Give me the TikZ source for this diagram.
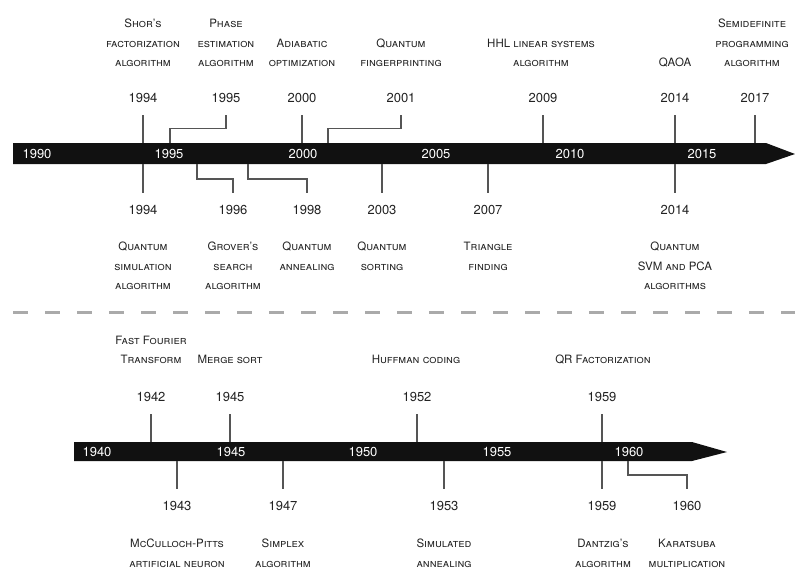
\documentclass[tikz,border=0pt]{standalone}
\usepackage{fontspec}
\setmainfont{TeX Gyre Heros}
\definecolor{ink}{HTML}{222222}
\definecolor{linegray}{HTML}{555555}
\definecolor{barblack}{HTML}{111111}
\definecolor{dashgray}{HTML}{AAAAAA}
\begin{document}
\begin{tikzpicture}[x=1pt,y=-1pt,
  yr/.style={font=\fontsize{13}{13}\selectfont, text=ink, minimum height=34pt, inner sep=0pt},
  desc/.style={font=\fontsize{11.5}{19.5}\selectfont\scshape, align=center, text=ink, inner sep=0pt},
  barlab/.style={font=\fontsize{13}{13}\selectfont, text=white, inner sep=0pt},
  conn/.style={draw=linegray, line width=1.2pt},
  timebar/.style={fill=barblack},
  sep/.style={draw=dashgray, line width=3pt, dash pattern=on 15pt off 17pt}
  ]
\useasboundingbox (0,0) rectangle (795,571);

% ---------------- top timeline ----------------
\fill[timebar] (13,143) -- (766,143) -- (795,154) -- (766,164) -- (13,164) -- cycle;
\foreach \t/\x in {1990/37,1995/169,2000/303,2005/436,2010/570,2015/702}
  \node[barlab] (bt\t) at (\x,154) {\t};

% above
\node[yr] (y94a) at (143,98) {1994};
\node[desc, anchor=south] (d94a) at (143,67) {Shor's\\factorization\\algorithm};
\coordinate (a94a) at (143,143);
\draw[conn] (y94a.south) -- (a94a);

\node[yr] (y95) at (226,98) {1995};
\node[desc, anchor=south] (d95) at (226,67) {Phase\\estimation\\algorithm};
\coordinate (a95) at (170,143);
\draw[conn] (y95.south) -- ++(0,13) -| (a95);

\node[yr] (y00) at (302,98) {2000};
\node[desc, anchor=south] (d00) at (302,67) {Adiabatic\\optimization};
\coordinate (a00) at (302,143);
\draw[conn] (y00.south) -- (a00);

\node[yr] (y01) at (401,98) {2001};
\node[desc, anchor=south] (d01) at (401,67) {Quantum\\fingerprinting};
\coordinate (a01) at (328,143);
\draw[conn] (y01.south) -- ++(0,13) -| (a01);

\node[yr] (y09) at (543,98) {2009};
\node[desc, anchor=south] (d09) at (541,67) {HHL linear systems\\algorithm};
\coordinate (a09) at (543,143);
\draw[conn] (y09.south) -- (a09);

\node[yr] (y14a) at (675,98) {2014};
\node[desc, anchor=south] (d14a) at (675,67) {QAOA};
\coordinate (a14a) at (675,143);
\draw[conn] (y14a.south) -- (a14a);

\node[yr] (y17) at (755,98) {2017};
\node[desc, anchor=south] (d17) at (752,67) {Semidefinite\\programming\\algorithm};
\coordinate (a17) at (755,143);
\draw[conn] (y17.south) -- (a17);

% below
\node[yr] (y94b) at (143,210) {1994};
\node[desc, anchor=north] (d94b) at (143,242) {Quantum\\simulation\\algorithm};
\coordinate (a94b) at (143,164);
\draw[conn] (a94b) -- (y94b.north);

\node[yr] (y96) at (233,210) {1996};
\node[desc, anchor=north] (d96) at (233,242) {Grover's\\search\\algorithm};
\coordinate (a96) at (197,164);
\draw[conn] (a96) -- ++(0,15) -| (y96.north);

\node[yr] (y98) at (307,210) {1998};
\node[desc, anchor=north] (d98) at (307,242) {Quantum\\annealing};
\coordinate (a98) at (248,164);
\draw[conn] (a98) -- ++(0,15) -| (y98.north);

\node[yr] (y03) at (382,210) {2003};
\node[desc, anchor=north] (d03) at (382,242) {Quantum\\sorting};
\coordinate (a03) at (382,164);
\draw[conn] (a03) -- (y03.north);

\node[yr] (y07) at (488,210) {2007};
\node[desc, anchor=north] (d07) at (488,242) {Triangle\\finding};
\coordinate (a07) at (488,164);
\draw[conn] (a07) -- (y07.north);

\node[yr] (y14b) at (675,210) {2014};
\node[desc, anchor=north] (d14b) at (675,242) {Quantum\\SVM and PCA\\algorithms};
\coordinate (a14b) at (675,164);
\draw[conn] (a14b) -- (y14b.north);

% ---------------- separator ----------------
\coordinate (s1) at (13,312);
\coordinate (s2) at (795,312);
\draw[sep] (s1) -- (s2);

% ---------------- bottom timeline ----------------
\fill[timebar] (74,442) -- (692,442) -- (727,452) -- (692,461) -- (74,461) -- cycle;
\foreach \t/\x in {1940/97,1945/231,1950/363,1955/497,1960/629}
  \node[barlab] (bb\t) at (\x,452) {\t};

% above
\node[yr] (y42) at (151,397) {1942};
\node[desc, anchor=south] (d42) at (151,364) {Fast Fourier\\Transform};
\coordinate (a42) at (151,442);
\draw[conn] (y42.south) -- (a42);

\node[yr] (y45) at (230,397) {1945};
\node[desc, anchor=south] (d45) at (230,364) {Merge sort};
\coordinate (a45) at (230,442);
\draw[conn] (y45.south) -- (a45);

\node[yr] (y52) at (417,397) {1952};
\node[desc, anchor=south] (d52) at (416,364) {Huffman coding};
\coordinate (a52) at (417,442);
\draw[conn] (y52.south) -- (a52);

\node[yr] (y59a) at (602,397) {1959};
\node[desc, anchor=south] (d59a) at (603,364) {QR Factorization};
\coordinate (a59a) at (602,442);
\draw[conn] (y59a.south) -- (a59a);

% below
\node[yr] (y43) at (177,506) {1943};
\node[desc, anchor=north] (d43) at (177,539) {McCulloch-Pitts\\artificial neuron};
\coordinate (a43) at (177,461);
\draw[conn] (a43) -- (y43.north);

\node[yr] (y47) at (283,506) {1947};
\node[desc, anchor=north] (d47) at (283,539) {Simplex\\algorithm};
\coordinate (a47) at (283,461);
\draw[conn] (a47) -- (y47.north);

\node[yr] (y53) at (444,506) {1953};
\node[desc, anchor=north] (d53) at (444,539) {Simulated\\annealing};
\coordinate (a53) at (444,461);
\draw[conn] (a53) -- (y53.north);

\node[yr] (y59b) at (602,506) {1959};
\node[desc, anchor=north] (d59b) at (603,539) {Dantzig's\\algorithm};
\coordinate (a59b) at (602,461);
\draw[conn] (a59b) -- (y59b.north);

\node[yr] (y60) at (687,506) {1960};
\node[desc, anchor=north] (d60) at (687,539) {Karatsuba\\multiplication};
\coordinate (a60) at (628,461);
\draw[conn] (a60) -- ++(0,14) -| (y60.north);
\end{tikzpicture}
\end{document}
